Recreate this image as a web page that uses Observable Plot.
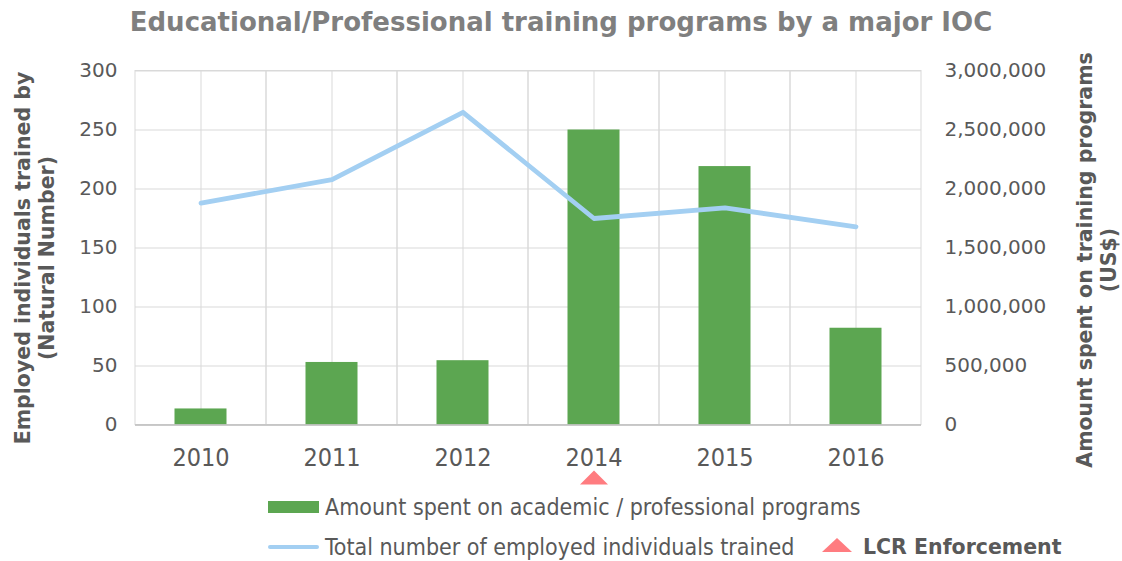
<!DOCTYPE html>
<html><head><meta charset="utf-8">
<script src="https://cdn.jsdelivr.net/npm/d3@7"></script>
<script src="https://cdn.jsdelivr.net/npm/@observablehq/plot@0.6"></script>
<style>
html,body{margin:0;padding:0;background:#fff;}
body{width:1122px;height:561px;overflow:hidden;font-family:"DejaVu Sans",sans-serif;}
#title{height:45px;line-height:45px;text-align:center;font-weight:bold;font-size:26px;font-family:"DejaVu Sans";color:#7f7f7f;white-space:nowrap;}
#chart{height:445px;}
#legend{position:relative;height:71px;font-family:"DejaVu Sans Condensed","DejaVu Sans";font-size:23px;color:#595959;}
#legend .item{position:absolute;white-space:nowrap;line-height:24px;}
#legend .sw{position:absolute;}
</style>
</head><body>
<div id="title">Educational/Professional training programs by a major IOC</div>
<div id="chart"></div>
<div id="legend">
  <div class="sw" id="swBar" style="left:268px;top:11px;width:51px;height:12px;"></div>
  <div class="item" style="left:325px;top:5px;">Amount spent on academic / professional programs</div>
  <div class="sw" id="swLine" style="left:268px;top:55px;width:51px;height:4px;border-radius:2px;"></div>
  <div class="item" style="left:325px;top:45px;">Total number of employed individuals trained</div>
  <svg class="sw" id="swTri" style="left:822px;top:48px;" width="30" height="14" viewBox="0 0 30 14"><path d="M15,0L30,14L0,14Z"/></svg>
  <div class="item" style="left:863px;top:45px;font-family:'DejaVu Sans';font-weight:bold;font-size:20.5px;">LCR Enforcement</div>
</div>
<script>
// ---- data ----
const years = ["2010", "2011", "2012", "2014", "2015", "2016"];
const amountSpent = [136000, 530000, 545000, 2500000, 2190000, 820000]; // US$ (right axis)
const trained = [188, 208, 265, 175, 184, 168]; // individuals (left axis)
const leftTicks = [0, 50, 100, 150, 200, 250, 300];
const lcrYears = ["2014"];
const leftLabel = "Employed individuals trained by\n(Natural Number)";
const rightLabel = "Amount spent on training programs\n(US$)";
const dollarsPerUnit = 10000; // right axis 3,000,000 aligns with left 300

// ---- colours ----
const green = "#5ca651", blue = "#a3cff2", salmon = "#ff7c80", grid = "#d9d9d9";
document.getElementById("swBar").style.background = green;
document.getElementById("swLine").style.background = blue;
document.querySelector("#swTri path").setAttribute("fill", salmon);

const data = years.map((year, i) => ({year, amount: amountSpent[i], trained: trained[i]}));
const lcr = lcrYears.map(year => ({year}));

const flatTriangle = {
  draw(ctx, size) {
    const r = Math.sqrt(size / Math.PI);
    ctx.moveTo(0, -r / 2);
    ctx.lineTo(r, r / 2);
    ctx.lineTo(-r, r / 2);
    ctx.closePath();
  }
};

const chart = Plot.plot({
  width: 1122,
  height: 445,
  marginTop: 25.5,
  marginBottom: 65.5,
  marginLeft: 135,
  marginRight: 201,
  style: {fontFamily: "DejaVu Sans", color: "#595959", background: "transparent", overflow: "visible"},
  x: {type: "band", domain: years, padding: 0, label: null},
  y: {domain: [0, 300], label: null},
  marks: [
    Plot.barY(years, {x: d => d, y1: 0, y2: 300, fill: "none", stroke: grid}),
    Plot.gridY(leftTicks, {stroke: grid, strokeOpacity: 1}),
    Plot.gridX(years, {stroke: grid, strokeOpacity: 1}),
    Plot.barY(data, {x: "year", y: d => d.amount / dollarsPerUnit, fill: green, insetLeft: 39.5, insetRight: 39.5}),
    Plot.line(data, {x: "year", y: "trained", stroke: blue, strokeWidth: 4.8}),
    Plot.ruleY([0], {stroke: "#bfbfbf", strokeWidth: 1.5}),
    Plot.axisY(leftTicks, {anchor: "left", tickSize: 0, tickPadding: 18, fontSize: 20, label: null}),
    Plot.axisY(leftTicks, {anchor: "right", tickSize: 0, tickPadding: 23, fontSize: 20, label: null,
      tickFormat: d => d3.format(",")(d * dollarsPerUnit)}),
    Plot.axisX({tickSize: 0, tickPadding: 23, fontSize: 25, fontFamily: "DejaVu Sans Condensed", label: null}),
    Plot.dot(lcr, {x: "year", frameAnchor: "bottom", dy: 52.5, symbol: flatTriangle, r: 14, fill: salmon, stroke: null}),
    Plot.text([leftLabel], {frameAnchor: "left", textAnchor: "middle", rotate: -90, dx: -101.5, dy: 10, fontWeight: "bold", fontSize: 20.5, lineHeight: 1.2, fill: "#595959"}),
    Plot.text([rightLabel], {frameAnchor: "right", textAnchor: "middle", rotate: -90, dx: 175, dy: 12, fontWeight: "bold", fontSize: 20.5, lineHeight: 1.15, fill: "#595959"})
  ]
});
document.getElementById("chart").appendChild(chart);
</script>
</body></html>
